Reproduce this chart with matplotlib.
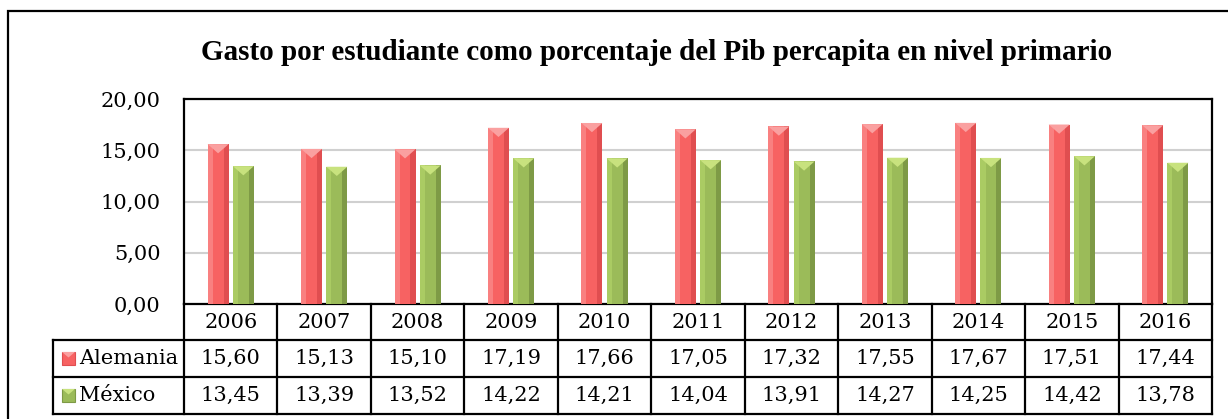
import matplotlib.pyplot as plt
from matplotlib.patches import Rectangle
from matplotlib.ticker import FuncFormatter

# datos
anios = ['2006', '2007', '2008', '2009', '2010', '2011', '2012', '2013', '2014', '2015', '2016']
alemania = [15.60, 15.13, 15.10, 17.19, 17.66, 17.05, 17.32, 17.55, 17.67, 17.51, 17.44]
mexico = [13.45, 13.39, 13.52, 14.22, 14.21, 14.04, 13.91, 14.27, 14.25, 14.42, 13.78]
series = ['Alemania', 'México']
titulo = 'Gasto por estudiante como porcentaje del Pib percapita en nivel primario'

W, H = 1228, 419
fig = plt.figure(figsize=(W / 100, H / 100), dpi=100)

# marco exterior del grafico
fig.patches.append(Rectangle((8 / W, -0.2), 1.5, 1.2 - 11 / H, transform=fig.transFigure,
                             fill=False, edgecolor='black', linewidth=1.6))

px_l, px_r, px_t, px_b = 184, 1212, 99, 304
ax = fig.add_axes([px_l / W, 1 - px_b / H, (px_r - px_l) / W, (px_b - px_t) / H])

x = list(range(len(anios)))
ancho = 0.225
off = 0.135
tri = 0.9

colores = {
    'Alemania': ('#F76262', '#F98080', '#E04E50', '#FAA0A0'),
    'México': ('#9BBB59', '#AACB63', '#7E9A46', '#C8E27E'),
}

for vals, sgn, nombre in [(alemania, -1, 'Alemania'), (mexico, 1, 'México')]:
    c, cl, cd, ct = colores[nombre]
    xs = [i + sgn * off for i in x]
    ax.bar(xs, vals, width=ancho, color=c, zorder=3)
    ax.bar([v - ancho * 0.5 + ancho * 0.12 for v in xs], vals, width=ancho * 0.24, color=cl, zorder=3)
    ax.bar([v + ancho * 0.5 - ancho * 0.12 for v in xs], vals, width=ancho * 0.24, color=cd, zorder=3)
    for xc, v in zip(xs, vals):
        ax.fill([xc - ancho / 2, xc + ancho / 2, xc], [v, v, v - tri], color=ct, zorder=4, lw=0)

ax.set_xlim(-0.5, len(anios) - 0.5)
ax.set_ylim(0, 20)
ax.set_yticks([0, 5, 10, 15, 20])
ax.yaxis.set_major_formatter(FuncFormatter(lambda v, p: f'{v:.2f}'.replace('.', ',')))
ax.grid(axis='y', color='#D0D0D0', linewidth=1.5, zorder=0)
ax.set_xticks([])
ax.tick_params(axis='y', length=0, pad=17, labelsize=15)
for lab in ax.get_yticklabels():
    lab.set_fontfamily('DejaVu Serif')
for s in ax.spines.values():
    s.set_linewidth(1.6)

# tabla de datos
tr = ax.get_xaxis_transform()
uy = 1 / (px_b - px_t)
y0 = 0
y1 = -36 * uy
y2 = -73 * uy
y3 = -110 * uy
xl = -0.5 - (px_l - 53) / ((px_r - px_l) / len(anios))
lk = dict(color='black', lw=1.6, transform=tr, clip_on=False)

ax.plot([-0.5, -0.5], [y0, y3], **lk)
ax.plot([len(anios) - 0.5] * 2, [y0, y3], **lk)
for i in range(1, len(anios)):
    ax.plot([i - 0.5, i - 0.5], [y0, y3], **lk)
ax.plot([xl, len(anios) - 0.5], [y1, y1], **lk)
ax.plot([xl, len(anios) - 0.5], [y2, y2], **lk)
ax.plot([xl, len(anios) - 0.5], [y3, y3], **lk)
ax.plot([xl, xl], [y1, y3], **lk)

tk = dict(transform=tr, ha='center', va='center', fontsize=15, family='DejaVu Serif')
for i, a in enumerate(anios):
    ax.text(i, (y0 + y1) / 2, a, **tk)
    ax.text(i, (y1 + y2) / 2, f'{alemania[i]:.2f}'.replace('.', ','), **tk)
    ax.text(i, (y2 + y3) / 2, f'{mexico[i]:.2f}'.replace('.', ','), **tk)

# leyenda dentro de la tabla
upx = len(anios) / (px_r - px_l)
for nombre, yc in [('Alemania', (y1 + y2) / 2), ('México', (y2 + y3) / 2)]:
    c, cl, cd, ct = colores[nombre]
    mx = xl + 9 * upx
    ax.add_patch(Rectangle((mx, yc - 6.5 * uy), 13 * upx, 13 * uy, transform=tr,
                           facecolor=c, edgecolor=cd, lw=0.8, clip_on=False))
    ax.fill([mx, mx + 13 * upx, mx + 6.5 * upx], [yc + 6.5 * uy, yc + 6.5 * uy, yc + 1 * uy],
            transform=tr, color=ct, clip_on=False, lw=0)
    ax.text(mx + 17 * upx, yc, nombre, transform=tr, ha='left', va='center',
            fontsize=15, family='DejaVu Serif')

fig.text(657 / W, 1 - 53 / H, titulo, ha='center', va='center', fontsize=21,
         fontweight='bold', family='Liberation Serif')

fig.savefig('out.png', dpi=100)
